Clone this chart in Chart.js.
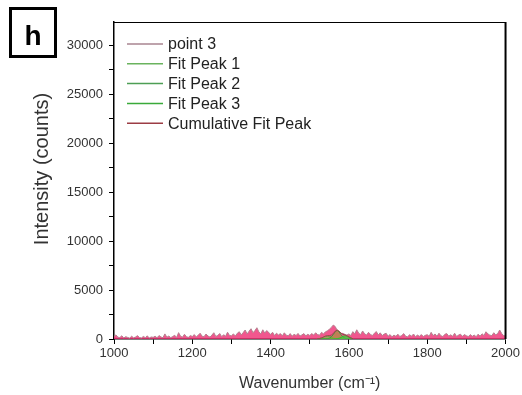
<!DOCTYPE html>
<html>
<head>
<meta charset="utf-8">
<script src="https://cdn.jsdelivr.net/npm/chart.js@4/dist/chart.umd.min.js"></script>
<style>
  body { margin: 0; background: #fff; }
  canvas { display: block; }
</style>
</head>
<body>
<canvas id="grafico" width="522" height="395"></canvas>
<script>
// Espectro "point 3": 1000 a 2000 cm-1, un valor cada 5 cm-1
const inicio = 1000;
const paso = 5;
const intensidades = [
  250,420,180,150,330,100,240,160,90,280,120,200,340,150,110,260,140,320,100,210,
  170,280,120,350,200,140,520,180,300,140,250,380,160,650,280,190,480,230,170,350,
  260,450,210,380,590,280,230,510,300,200,400,640,260,360,560,240,440,280,690,360,
  330,520,300,590,740,420,660,920,510,800,1050,640,860,1150,720,530,940,600,860,680,
  460,690,350,590,410,550,320,630,390,330,550,280,490,350,570,300,420,550,320,480,
  360,550,400,630,450,390,680,520,730,830,990,1180,1420,1270,880,700,580,570,460,400,
  520,360,750,530,940,590,450,820,530,400,680,470,350,590,760,410,630,350,500,590,
  280,450,220,400,270,490,250,360,550,270,230,430,290,510,230,400,270,450,250,370,
  440,270,680,350,510,270,590,330,250,480,550,290,430,270,590,250,400,490,270,450,
  330,250,450,270,400,230,490,290,530,350,740,520,390,350,640,420,550,920,570,350,
  300
];

// Ajuste de picos (zona 1520-1610 cm-1)
const ajusteX = [1520,1525,1530,1535,1540,1545,1550,1555,1560,1565,1570,1575,1580,1585,1590,1595,1600,1605,1610];
const pico1 = [20,50,110,200,280,300,260,180,100,45,15,5,0,0,0,0,0,0,0];
const pico2 = [0,0,0,0,10,30,90,220,450,750,880,720,430,200,80,25,5,0,0];
const pico3 = [0,0,0,0,0,0,0,0,0,10,30,80,160,270,340,300,200,100,40];
const acumulado = [20,50,110,200,290,330,350,400,550,805,925,805,590,470,420,325,205,100,40];

// Marcas de los ejes
const ticksX = [1000,1100,1200,1300,1400,1500,1600,1700,1800,1900,2000];
const ticksY = [0,2500,5000,7500,10000,12500,15000,17500,20000,22500,25000,27500,30000];

const fuente = "Arial, 'Liberation Sans', sans-serif";

const puntos = intensidades.map((v, i) => ({ x: inicio + i * paso, y: v }));
const par = (arr) => arr.map((v, i) => ({ x: ajusteX[i], y: v }));

// Recuadro con la letra del panel, marco, título del eje Y y leyenda propia
const extras = {
  id: 'extras',
  afterDraw(chart) {
    const ctx = chart.ctx;
    const a = chart.chartArea;
    ctx.save();
    // marco superior y derecho
    ctx.strokeStyle = '#000';
    ctx.lineWidth = 1;
    ctx.beginPath();
    ctx.moveTo(a.left, a.top + 0.5);
    ctx.lineTo(a.right, a.top + 0.5);
    ctx.stroke();
    ctx.lineWidth = 2;
    ctx.beginPath();
    ctx.moveTo(a.right, a.top);
    ctx.lineTo(a.right, a.bottom);
    ctx.stroke();

    // letra del panel
    ctx.lineWidth = 3;
    ctx.strokeRect(10.5, 8.5, 45, 48);
    ctx.fillStyle = '#000';
    ctx.font = 'bold 28px ' + fuente;
    ctx.textAlign = 'center';
    ctx.textBaseline = 'middle';
    ctx.fillText('h', 33, 37);

    // título del eje Y (algo por encima del centro, como en el original)
    ctx.save();
    ctx.translate(42, 169);
    ctx.rotate(-Math.PI / 2);
    ctx.fillStyle = '#333';
    ctx.font = '20px ' + fuente;
    ctx.fillText('Intensity (counts)', 0, 0);
    ctx.restore();

    // leyenda
    ctx.font = '16px ' + fuente;
    ctx.textAlign = 'left';
    chart.data.datasets.forEach((ds, i) => {
      const y = 44 + i * 19.8;
      ctx.strokeStyle = ds.legendColor;
      ctx.lineWidth = 1.5;
      ctx.beginPath();
      ctx.moveTo(127, y);
      ctx.lineTo(163, y);
      ctx.stroke();
      ctx.fillStyle = '#222';
      ctx.fillText(ds.label, 168, y + 1);
    });
    ctx.restore();
  }
};

new Chart(document.getElementById('grafico'), {
  type: 'line',
  data: {
    datasets: [
      {
        label: 'point 3',
        data: puntos,
        borderColor: '#b5818f',
        legendColor: '#a88590',
        backgroundColor: 'rgba(238,58,122,0.85)',
        borderWidth: 1,
        fill: 'origin',
        order: 5
      },
      {
        label: 'Fit Peak 1',
        data: par(pico1),
        borderColor: '#5cad4a',
        legendColor: '#6ab35e',
        backgroundColor: 'rgba(120,200,70,0.6)',
        borderWidth: 1,
        fill: 'origin',
        order: 3
      },
      {
        label: 'Fit Peak 2',
        data: par(pico2),
        borderColor: '#3f9a3f',
        legendColor: '#4e9e55',
        backgroundColor: 'rgba(150,160,40,0.55)',
        borderWidth: 1,
        fill: 'origin',
        order: 2
      },
      {
        label: 'Fit Peak 3',
        data: par(pico3),
        borderColor: '#2fbf2f',
        legendColor: '#3aaa3a',
        backgroundColor: 'rgba(60,210,60,0.7)',
        borderWidth: 1,
        fill: 'origin',
        order: 1
      },
      {
        label: 'Cumulative Fit Peak',
        data: par(acumulado),
        borderColor: '#a3404a',
        legendColor: '#9c3c44',
        borderWidth: 1,
        fill: false,
        order: 0
      }
    ]
  },
  options: {
    responsive: false,
    animation: false,
    elements: { point: { radius: 0 }, line: { tension: 0 } },
    layout: { padding: { left: 0, top: 22, right: 14, bottom: 0 } },
    plugins: {
      legend: { display: false },
      tooltip: { enabled: false }
    },
    scales: {
      x: {
        type: 'linear',
        min: 1000,
        max: 2000,
        afterBuildTicks: (s) => { s.ticks = ticksX.map(v => ({ value: v })); },
        afterFit: (s) => { s.height = 56; },
        ticks: {
          autoSkip: false,
          maxRotation: 0,
          padding: 2,
          color: '#333',
          font: { family: fuente, size: 13 },
          callback: (v) => (v % 200 === 0 ? String(v) : '')
        },
        grid: { drawOnChartArea: false, tickLength: 5, color: '#000' },
        border: { color: '#000', width: 1.5 },
        title: {
          display: true,
          text: 'Wavenumber (cm\u207B\u00B9)',
          color: '#333',
          font: { family: fuente, size: 16 },
          padding: { top: 0, bottom: 2 }
        }
      },
      y: {
        min: 0,
        max: 32350,
        afterBuildTicks: (s) => { s.ticks = ticksY.map(v => ({ value: v })); },
        afterFit: (s) => { s.width = 114; },
        ticks: {
          autoSkip: false,
          padding: 6,
          color: '#333',
          font: { family: fuente, size: 13 },
          callback: (v) => (v % 5000 === 0 ? String(v) : '')
        },
        grid: { drawOnChartArea: false, tickLength: 5, color: '#000' },
        border: { color: '#000', width: 1.5 }
      }
    }
  },
  plugins: [extras]
});
</script>
</body>
</html>
